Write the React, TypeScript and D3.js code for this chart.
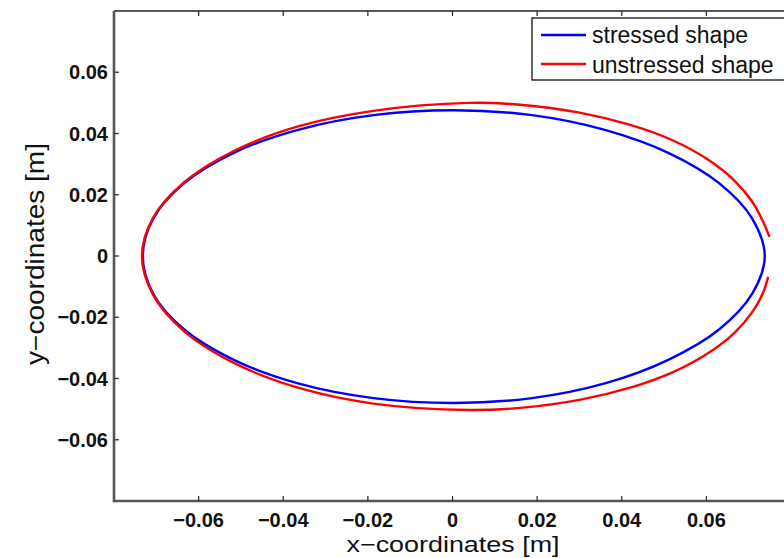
import React from 'react';
import * as d3 from 'd3';

// shape outlines, in metres (counter-clockwise from the right)
const stressedX = [
  0.0738, 0.0708, 0.063, 0.051, 0.036, 0.0188, 0.0003, -0.0187, -0.0365, -0.0517,
  -0.0634, -0.0707, -0.0732, -0.0707, -0.0634, -0.0517, -0.0365, -0.0187, 0.0003,
  0.0188, 0.036, 0.051, 0.063, 0.0708,
];
const stressedY = [
  0.0, 0.0123, 0.0238, 0.0337, 0.0412, 0.046, 0.0476, 0.046, 0.0412, 0.0337,
  0.0238, 0.0123, 0.0, -0.0124, -0.024, -0.0339, -0.0416, -0.0464, -0.048,
  -0.0464, -0.0416, -0.0339, -0.024, -0.0124,
];

// unstressed outline is open at the right-hand end
const unstressedX = [
  0.0749, 0.0733, 0.0708, 0.0665, 0.06, 0.052, 0.042, 0.03, 0.016, 0.004,
  -0.0187, -0.0365, -0.0517, -0.0634, -0.0708, -0.0734, -0.0708, -0.0634, -0.0517,
  -0.0365, -0.0187, 0.004, 0.016, 0.03, 0.042, 0.052, 0.06, 0.0667, 0.071,
  0.0734, 0.0746,
];
const unstressedY = [
  0.0063, 0.0115, 0.0178, 0.0248, 0.0318, 0.0378, 0.0428, 0.0468, 0.0494, 0.05,
  0.0474, 0.0423, 0.0343, 0.0241, 0.0124, 0.0, -0.0126, -0.0246, -0.0349,
  -0.043, -0.0482, -0.0503, -0.0496, -0.047, -0.043, -0.038, -0.0321, -0.025,
  -0.018, -0.012, -0.0068,
];

const seriesNames = ['stressed shape', 'unstressed shape'];
const seriesColors = ['#0000ff', '#ff0000'];

const xTicks = [-0.06, -0.04, -0.02, 0, 0.02, 0.04, 0.06];
const yTicks = [-0.06, -0.04, -0.02, 0, 0.02, 0.04, 0.06];
const xTickLabels = ['\u22120.06', '\u22120.04', '\u22120.02', '0', '0.02', '0.04', '0.06'];
const yTickLabels = ['\u22120.06', '\u22120.04', '\u22120.02', '0', '0.02', '0.04', '0.06'];

const W = 784;
const H = 558;
const left = 114;
const right = 791;
const top = 11;
const bottom = 501;

const App = () => {
  const x = d3.scaleLinear().domain([-0.08, 0.08]).range([left, right]);
  const y = d3.scaleLinear().domain([-0.08, 0.08]).range([bottom, top]);

  const stressed: [number, number][] = stressedX.map((v, i) => [v, stressedY[i]]);
  const unstressed: [number, number][] = unstressedX.map((v, i) => [v, unstressedY[i]]);

  const closedLine = d3
    .line<[number, number]>()
    .x((d) => x(d[0]))
    .y((d) => y(d[1]))
    .curve(d3.curveCatmullRomClosed);
  const openLine = d3
    .line<[number, number]>()
    .x((d) => x(d[0]))
    .y((d) => y(d[1]))
    .curve(d3.curveCatmullRom);

  const font = '"Liberation Sans", Arial, Helvetica, sans-serif';

  return (
    <svg
      width={W}
      height={H}
      style={{ position: 'absolute', left: 0, top: 0, display: 'block', background: '#fff' }}
      fontFamily={font}>
      {/* curves */}
      <path d={closedLine(stressed) || ''} fill='none' stroke={seriesColors[0]} strokeWidth={2.4} />
      <path d={openLine(unstressed) || ''} fill='none' stroke={seriesColors[1]} strokeWidth={2.4} />

      {/* frame */}
      <line x1={left} x2={W} y1={top} y2={top} stroke='#222' strokeWidth={1.6} />
      <line x1={left} x2={W} y1={bottom} y2={bottom} stroke='#555' strokeWidth={2.6} />
      <line x1={left} x2={left} y1={top} y2={bottom + 1.3} stroke='#555' strokeWidth={2.6} />

      {/* x ticks */}
      {xTicks.map((t, i) => (
        <g key={'x' + i}>
          <line x1={x(t)} x2={x(t)} y1={bottom} y2={bottom - 5} stroke='#333' strokeWidth={1.3} />
          <line x1={x(t)} x2={x(t)} y1={top} y2={top + 5} stroke='#333' strokeWidth={1.3} />
          <text
            x={x(t)}
            y={527}
            textAnchor='middle'
            fontSize={20}
            fontWeight='bold'
            fill='#111'>
            {xTickLabels[i]}
          </text>
        </g>
      ))}

      {/* y ticks */}
      {yTicks.map((t, i) => (
        <g key={'y' + i}>
          <line x1={left} x2={left + 5} y1={y(t)} y2={y(t)} stroke='#333' strokeWidth={1.3} />
          <text
            x={108}
            y={y(t) + 7}
            textAnchor='end'
            fontSize={20}
            fontWeight='bold'
            fill='#111'>
            {yTickLabels[i]}
          </text>
        </g>
      ))}

      {/* axis titles */}
      <text
        x={453}
        y={552}
        textAnchor='middle'
        fontSize={22}
        textLength={213}
        lengthAdjust='spacingAndGlyphs'
        fill='#111'>
        x−coordinates [m]
      </text>
      <text
        transform={`translate(44,254) rotate(-90)`}
        textAnchor='middle'
        fontSize={25}
        textLength={222}
        lengthAdjust='spacingAndGlyphs'
        fill='#111'>
        y−coordinates [m]
      </text>

      {/* legend */}
      <rect x={532} y={18} width={270} height={62} fill='#fff' stroke='#111' strokeWidth={1.3} />
      {seriesNames.map((name, i) => (
        <g key={name}>
          <line
            x1={541}
            x2={586}
            y1={35 + i * 29}
            y2={35 + i * 29}
            stroke={seriesColors[i]}
            strokeWidth={2.4}
          />
          <text x={592} y={43 + i * 30} fontSize={23} fill='#111'>
            {name}
          </text>
        </g>
      ))}
    </svg>
  );
};

export default App;
